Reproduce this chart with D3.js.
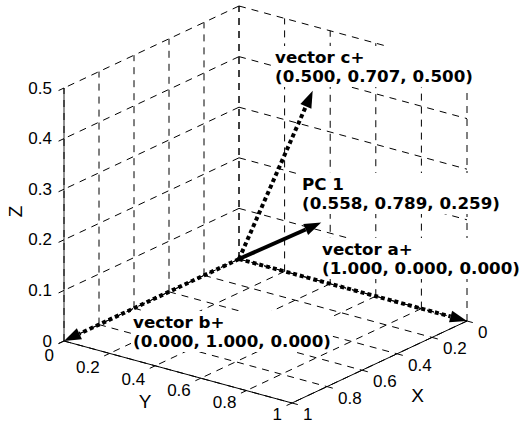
<!DOCTYPE html>
<html>
<head>
<meta charset="utf-8">
<script src="https://cdn.jsdelivr.net/npm/d3@7"></script>
<style>
body { margin: 0; background: #fff; }
svg { display: block; }
</style>
</head>
<body>
<svg id="chart" width="522" height="423"></svg>
<script>
// tick values for the three axes
var xTicks = [0, 0.2, 0.4, 0.6, 0.8, 1];
var yTicks = [0, 0.2, 0.4, 0.6, 0.8, 1];
var zTicks = [0, 0.1, 0.2, 0.3, 0.4, 0.5];

// the vectors (drawn from the origin)
var vecNames = ["vector a+", "vector b+", "vector c+", "PC 1"];
var vecX = [1.000, 0.000, 0.500, 0.558];
var vecY = [0.000, 1.000, 0.707, 0.789];
var vecZ = [0.000, 0.000, 0.500, 0.259];

// layout: projected origin and the screen direction of each unit axis
var origin = [239, 259];
var ex = [-175, 82], ey = [228, 62], ez = [0, -253];
// text offsets from the projected origin (left / first baseline)
var labelOffset = [[83, -4], [-106, 69], [36, -196], [63, -69]];

var sx = d3.scaleLinear().domain([0, 1]).range([0, 1]);
var sy = d3.scaleLinear().domain([0, 1]).range([0, 1]);
var sz = d3.scaleLinear().domain([0, 0.5]).range([0, 1]);

function project(x, y, z) {
    var a = sx(x), b = sy(y), c = sz(z);
    return [origin[0] + a * ex[0] + b * ey[0] + c * ez[0],
            origin[1] + a * ex[1] + b * ey[1] + c * ez[1]];
}
function unit(v) { var l = Math.hypot(v[0], v[1]); return [v[0] / l, v[1] / l]; }

var svg = d3.select("#chart");
var fmt = d3.format(".3f");

// grid segments on the two back walls and the floor
var grid = [];
xTicks.forEach(function(x) {
    grid.push([[x, 0, 0], [x, 0, 0.5]]);
    grid.push([[x, 0, 0], [x, 1, 0]]);
});
yTicks.forEach(function(y) {
    grid.push([[0, y, 0], [0, y, 0.5]]);
    grid.push([[0, y, 0], [1, y, 0]]);
});
zTicks.forEach(function(z) {
    grid.push([[0, 0, z], [1, 0, z]]);
    grid.push([[0, 0, z], [0, 1, z]]);
});

function seg(sel, list) {
    return sel.selectAll(null).data(list).enter().append("line")
        .attr("x1", function(d) { return project.apply(null, d[0])[0]; })
        .attr("y1", function(d) { return project.apply(null, d[0])[1]; })
        .attr("x2", function(d) { return project.apply(null, d[1])[0]; })
        .attr("y2", function(d) { return project.apply(null, d[1])[1]; });
}

// axis lines (solid)
var axes = svg.append("g").attr("stroke", "#000").attr("stroke-width", 1);
seg(axes, [[[1, 0, 0], [1, 0, 0.5]], [[1, 0, 0], [1, 1, 0]], [[0, 1, 0], [1, 1, 0]]]);
axes.select("line").attr("stroke", "#777").attr("stroke-width", 1.6);

seg(svg.append("g").attr("stroke", "#000").attr("stroke-width", 1)
    .attr("stroke-dasharray", "7,6"), grid);

// tick marks, pointing out of the box
var tx = unit(ey), ty = unit(ex), tl = 6;
var ticks = svg.append("g").attr("stroke", "#000").attr("stroke-width", 1);
function tickMarks(pts, dir) {
    ticks.selectAll(null).data(pts).enter().append("line")
        .attr("x1", function(d) { return d[0]; })
        .attr("y1", function(d) { return d[1]; })
        .attr("x2", function(d) { return d[0] + dir[0] * tl; })
        .attr("y2", function(d) { return d[1] + dir[1] * tl; });
}
var xPts = xTicks.map(function(x) { return project(x, 1, 0); });
var yPts = yTicks.map(function(y) { return project(1, y, 0); });
var zPts = zTicks.map(function(z) { return project(1, 0, z); });
tickMarks(xPts, tx);
tickMarks(yPts, ty);
tickMarks(zPts, ty);

// tick labels
var tickFont = "'Liberation Sans', Arial, sans-serif";
var labels = svg.append("g").attr("font-family", tickFont).attr("font-size", 17).attr("fill", "#000");
labels.selectAll(null).data(xTicks).enter().append("text")
    .attr("x", function(d, i) { return xPts[i][0] + 11; })
    .attr("y", function(d, i) { return xPts[i][1] + 17; })
    .text(function(d) { return d3.format("")(d); });
labels.selectAll(null).data(yTicks).enter().append("text")
    .attr("text-anchor", "end")
    .attr("x", function(d, i) { return yPts[i][0] - 10; })
    .attr("y", function(d, i) { return yPts[i][1] + 17 + (1 - d) * 3; })
    .text(function(d) { return d3.format("")(d); });
labels.selectAll(null).data(zTicks).enter().append("text")
    .attr("text-anchor", "end")
    .attr("x", function(d, i) { return zPts[i][0] - 12; })
    .attr("y", function(d, i) { return zPts[i][1] + 5.5; })
    .text(function(d) { return d3.format("")(d); });

// axis titles
var xMid = project(0.5, 1, 0), yMid = project(1, 0.5, 0), zMid = project(1, 0, 0.25);
var titles = svg.append("g").attr("font-family", tickFont).attr("font-size", 19)
    .attr("text-anchor", "middle");
titles.append("text").attr("x", xMid[0] + 38).attr("y", xMid[1] + 40).text("X");
titles.append("text").attr("x", yMid[0] - 33).attr("y", yMid[1] + 36).text("Y");
titles.append("text")
    .attr("transform", "translate(" + (zMid[0] - 42) + "," + (zMid[1] - 3) + ") rotate(-90)")
    .text("Z");

// arrows
var headLen = 17, headW = 6;
var arrows = svg.append("g");
vecNames.forEach(function(name, i) {
    var p0 = project(0, 0, 0), p1 = project(vecX[i], vecY[i], vecZ[i]);
    var u = unit([p1[0] - p0[0], p1[1] - p0[1]]);
    var b = [p1[0] - u[0] * headLen, p1[1] - u[1] * headLen];
    var dotted = name !== "PC 1";
    arrows.append("line")
        .attr("x1", p0[0]).attr("y1", p0[1])
        .attr("x2", b[0]).attr("y2", b[1])
        .attr("stroke", "#000")
        .attr("stroke-width", 4)
        .attr("stroke-dasharray", dotted ? "4,3" : null);
    arrows.append("path")
        .attr("d", "M" + p1[0] + "," + p1[1] +
            "L" + (b[0] - u[1] * headW) + "," + (b[1] + u[0] * headW) +
            "L" + (b[0] + u[1] * headW) + "," + (b[1] - u[0] * headW) + "Z")
        .attr("fill", "#000");
});

// vector labels with white background
var boxes = svg.append("g");
var texts = svg.append("g").attr("font-family", "'DejaVu Sans', sans-serif")
    .attr("font-weight", "bold").attr("font-size", 16.7).attr("fill", "#000");
vecNames.forEach(function(name, i) {
    var p0 = project(0, 0, 0);
    var x = p0[0] + labelOffset[i][0], y = p0[1] + labelOffset[i][1];
    var t = texts.append("text").attr("x", x).attr("y", y);
    t.append("tspan").attr("x", x).text(name);
    t.append("tspan").attr("x", x).attr("dy", 19)
        .text("(" + fmt(vecX[i]) + ", " + fmt(vecY[i]) + ", " + fmt(vecZ[i]) + ")");
    var bb = t.node().getBBox();
    boxes.append("rect")
        .attr("x", bb.x - 2).attr("y", bb.y - 1)
        .attr("width", bb.width + 4).attr("height", bb.height + 2)
        .attr("fill", "#fff");
});
</script>
</body>
</html>
